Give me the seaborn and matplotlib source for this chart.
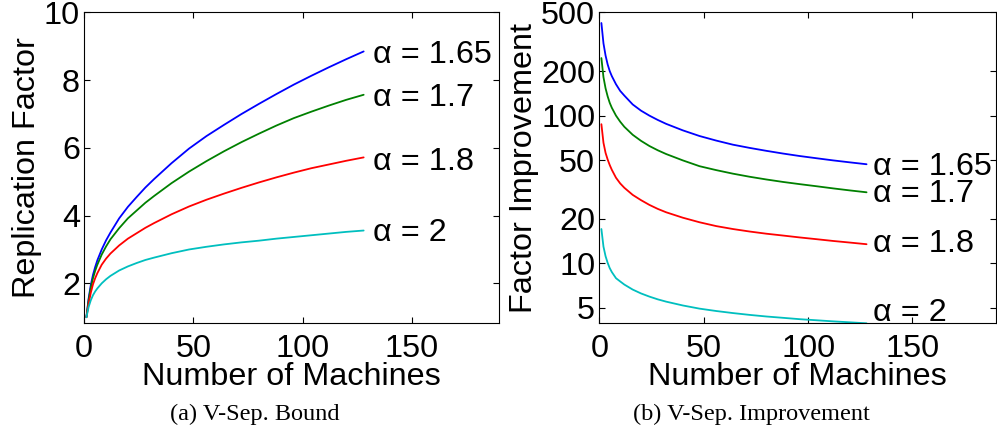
import numpy as np
import pandas as pd
import matplotlib
matplotlib.use("Agg")
import matplotlib.pyplot as plt
from matplotlib.ticker import NullLocator, FixedLocator, FixedFormatter
import seaborn as sns

# ---------------- data ----------------
machines = [1, 2, 3, 4, 5, 6, 8, 10, 12, 16, 20, 24, 28, 32, 40, 48, 56, 64, 72, 80,
            88, 96, 104, 112, 120, 128]
alphas = ["1.65", "1.7", "1.8", "2"]

# (a) V-Sep. Bound : replication factor
bound_165 = [1.0, 1.55, 1.95, 2.25, 2.48, 2.68, 3.0, 3.27, 3.5, 3.92, 4.26, 4.55, 4.83, 5.08,
             5.55, 5.98, 6.35, 6.68, 7.0, 7.30, 7.59, 7.87, 8.13, 8.38, 8.62, 8.85]
bound_17 = [1.0, 1.5, 1.87, 2.15, 2.37, 2.55, 2.85, 3.09, 3.3, 3.63, 3.92, 4.15, 4.38, 4.58,
            4.96, 5.30, 5.61, 5.90, 6.17, 6.42, 6.66, 6.88, 7.07, 7.25, 7.42, 7.57]
bound_18 = [1.0, 1.4, 1.72, 1.97, 2.15, 2.3, 2.55, 2.73, 2.88, 3.12, 3.32, 3.48, 3.64, 3.78,
            4.04, 4.27, 4.47, 4.65, 4.82, 4.98, 5.13, 5.27, 5.40, 5.51, 5.62, 5.72]
bound_2 = [1.0, 1.3, 1.5, 1.65, 1.76, 1.85, 2.0, 2.12, 2.22, 2.38, 2.5, 2.6, 2.69, 2.76,
           2.89, 3.0, 3.08, 3.15, 3.21, 3.26, 3.32, 3.37, 3.42, 3.47, 3.52, 3.56]

# (b) V-Sep. Improvement : factor improvement (log scale)
impr_165 = [423, 308, 255, 222, 200, 185, 163, 147, 136.6, 119, 108, 100, 93.5, 88,
            79.5, 72.8, 67.8, 63.6, 60.5, 57.8, 55.4, 53.3, 51.5, 49.8, 48.3, 46.9]
impr_17 = [245, 182, 153, 135, 122, 113, 100, 91, 84, 74.2, 67.5, 62.3, 58.3, 55,
           49.8, 45.5, 42.8, 40.5, 38.6, 37, 35.6, 34.4, 33.3, 32.2, 31.2, 30.3]
impr_18 = [87.5, 65.5, 56, 50.5, 46.3, 43, 38, 34.8, 32.5, 29.1, 26.8, 24.9, 23.4, 22.2,
           20.4, 19.0, 17.9, 17.1, 16.45, 15.9, 15.45, 15.0, 14.6, 14.2, 13.85, 13.5]
impr_2 = [17.1, 13.0, 11.2, 10.1, 9.3, 8.75, 7.95, 7.56, 7.2, 6.66, 6.27, 5.97, 5.72, 5.52,
          5.2, 4.95, 4.77, 4.62, 4.49, 4.38, 4.29, 4.2, 4.13, 4.06, 4.0, 3.94]

xticks = [0, 50, 100, 150]
left_yticks = [2, 4, 6, 8, 10]
right_yticks = [5, 10, 20, 50, 100, 200, 500]
right_ytick_labels = ["5", "10", "20", "50", "100", "200", "500"]

# label anchor values (baseline of each text, data coords)
left_label_y = [8.50, 7.23, 5.36, 3.25]
right_label_y = [39.6, 26.1, 12.0, 4.08]

colors = ["#0000ff", "#008000", "#ff0000", "#00bfbf"]

# ---------------- build tidy tables ----------------
def tidy(series_list):
    rows = []
    for a, vals in zip(alphas, series_list):
        for m, v in zip(machines, vals):
            rows.append({"machines": m, "value": v, "alpha": a})
    return pd.DataFrame(rows)

df_bound = tidy([bound_165, bound_17, bound_18, bound_2])
df_impr = tidy([impr_165, impr_17, impr_18, impr_2])

# ---------------- style ----------------
sns.set_theme(style="ticks")
plt.rcParams["font.family"] = ["Liberation Sans", "DejaVu Sans"]
plt.rcParams["axes.linewidth"] = 0.8
plt.rcParams["axes.edgecolor"] = "black"
plt.rcParams["text.color"] = "black"
plt.rcParams["axes.labelcolor"] = "black"
plt.rcParams["xtick.color"] = "black"
plt.rcParams["ytick.color"] = "black"

FS = 23.3
fig = plt.figure(figsize=(9.97, 4.34), dpi=100)
ax1 = fig.add_axes([0.0845, 0.2551, 0.4160, 0.7161])
ax2 = fig.add_axes([0.6011, 0.2551, 0.3979, 0.7166])

palette = dict(zip(alphas, colors))

sns.lineplot(data=df_bound, x="machines", y="value", hue="alpha", palette=palette,
             ax=ax1, legend=False, linewidth=1.3, estimator=None, sort=True)
sns.lineplot(data=df_impr, x="machines", y="value", hue="alpha", palette=palette,
             ax=ax2, legend=False, linewidth=1.3, estimator=None, sort=True)

for ax in (ax1, ax2):
    ax.set_xlim(0, 190)
    ax.set_xticks(xticks)
    ax.tick_params(axis="both", which="major", direction="in", top=True, right=True,
                   length=4.5, width=0.8, labelsize=FS, colors="black", labelcolor="black")
    ax.tick_params(axis="x", pad=7.5)
    ax.tick_params(axis="y", pad=3)
    for s in ax.spines.values():
        s.set_visible(True)
        s.set_color("black")
        s.set_linewidth(0.8)
    ax.set_xlabel("Number of Machines", fontsize=FS, color="black")
    ax.xaxis.set_label_coords(0.5, -0.124)

ax1.set_ylim(0.82, 10)
ax1.set_yticks(left_yticks)
ax1.set_ylabel("Replication Factor", fontsize=FS, color="black")
ax1.yaxis.set_label_coords(-0.102, 0.5)

ax2.set_yscale("log")
ax2.set_ylim(3.94, 500)
ax2.yaxis.set_major_locator(FixedLocator(right_yticks))
ax2.yaxis.set_major_formatter(FixedFormatter(right_ytick_labels))
ax2.yaxis.set_minor_locator(NullLocator())
ax2.set_ylabel("Factor Improvement", fontsize=FS, color="black")
ax2.yaxis.set_label_coords(-0.152, 0.5)

for a, y in zip(alphas, left_label_y):
    ax1.text(132.3, y, "α = " + a, fontsize=FS, va="baseline", ha="left", clip_on=False,
             color="black")
for a, y in zip(alphas, right_label_y):
    ax2.text(131, y, "α = " + a, fontsize=FS, va="baseline", ha="left", clip_on=False,
             color="black")

fig.text(255 / 997, 1 - 420 / 434, "(a) V-Sep. Bound", ha="center", va="baseline",
         fontsize=17.5, family=["Liberation Serif", "DejaVu Serif"], color="black")
fig.text(751.5 / 997, 1 - 420 / 434, "(b) V-Sep. Improvement", ha="center", va="baseline",
         fontsize=17.5, family=["Liberation Serif", "DejaVu Serif"], color="black")

fig.savefig("out.png", dpi=100, facecolor="white")
